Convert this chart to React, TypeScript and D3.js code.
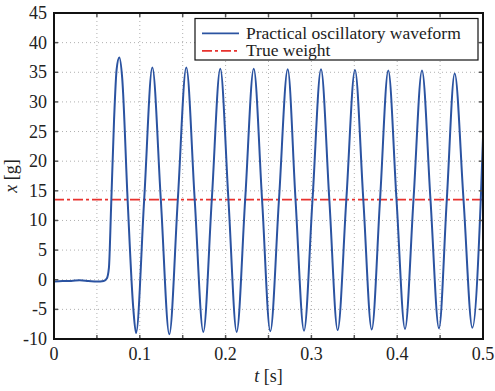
import React from 'react';
import * as d3 from 'd3';

// waveform samples: [t (s), x (g)]
const waveT = [
  0, 0.01, 0.02, 0.03, 0.04, 0.05, 0.058, 0.0615, 0.064, 0.0665, 0.07, 0.073, 0.0761,
  0.0795, 0.0858, 0.0925, 0.0956,
  0.1051, 0.1146, 0.1245, 0.1344, 0.1443, 0.1542, 0.1640, 0.1740, 0.1839, 0.1938,
  0.2033, 0.2129, 0.2228, 0.2328, 0.2425, 0.2521, 0.2622, 0.2724, 0.2815, 0.2914,
  0.3013, 0.3112, 0.3209, 0.3306, 0.3407, 0.3508, 0.3605, 0.3703, 0.3800, 0.3896,
  0.3992, 0.4091, 0.4190, 0.4289, 0.4388, 0.4487, 0.4578, 0.4670, 0.4773, 0.4876,
  0.4974, 0.5,
];
const waveX = [
  -0.3, -0.2, -0.2, -0.1, -0.2, -0.3, -0.2, 0.2, 2, 12, 27, 35.5, 37.5,
  34, 13.5, -5, -9.0,
  13.5, 35.8, 13.5, -9.2, 13.5, 35.8, 13.5, -8.8, 13.5, 35.6,
  13.5, -8.8, 13.5, 35.6, 13.5, -8.7, 13.5, 35.5, 13.5, -8.6,
  13.5, 35.5, 13.5, -8.5, 13.5, 35.4, 13.5, -8.4, 13.5, 35.3,
  13.5, -8.3, 13.5, 35.3, 13.5, -8.2, 13.5, 34.8, 13.5, -8.1,
  13.5, 24,
];
const trueWeight = 13.5;

const xTicks = [0, 0.05, 0.1, 0.15, 0.2, 0.25, 0.3, 0.35, 0.4, 0.45, 0.5];
const xLabels = [0, 0.1, 0.2, 0.3, 0.4, 0.5];
const yTicks = [-10, -5, 0, 5, 10, 15, 20, 25, 30, 35, 40, 45];
const legendItems = ['Practical oscillatory waveform', 'True weight'];

const W = 495;
const H = 391;
const margin = { top: 13, right: 12, bottom: 52, left: 54 };
const BLUE = '#2b53a1';
const RED = '#e8322e';
const txt = { fontFamily: 'Liberation Serif' };

export default function App() {
  const iw = W - margin.left - margin.right;
  const ih = H - margin.top - margin.bottom;
  const x = d3.scaleLinear().domain([0, 0.5]).range([0, iw]);
  const y = d3.scaleLinear().domain([-10, 45]).range([ih, 0]);

  const pts = waveT.map((t, i) => [t, waveX[i]] as [number, number]);
  const line = d3
    .line<[number, number]>()
    .x((d) => x(d[0]))
    .y((d) => y(d[1]))
    .curve(d3.curveMonotoneX);

  return (
    <svg
      width={W}
      height={H}
      style={{ position: 'absolute', left: 0, top: 0, background: '#fff' }}
    >
      <g transform={`translate(${margin.left},${margin.top})`}>
        {/* grid */}
        {xTicks.slice(1, -1).map((t) => (
          <line key={'gx' + t} x1={x(t)} x2={x(t)} y1={0} y2={ih}
            stroke="#b0b0b0" strokeWidth={1} strokeDasharray="1,3" />
        ))}
        {yTicks.slice(1, -1).map((v) => (
          <line key={'gy' + v} x1={0} x2={iw} y1={y(v)} y2={y(v)}
            stroke="#b0b0b0" strokeWidth={1} strokeDasharray="1,3" />
        ))}

        <clipPath id="plotclip">
          <rect x={0} y={0} width={iw} height={ih} />
        </clipPath>
        <g clipPath="url(#plotclip)">
          <line x1={0} x2={iw} y1={y(trueWeight)} y2={y(trueWeight)}
            stroke={RED} strokeWidth={1.7} strokeDasharray="10,3,3,3" />
          <path d={line(pts) || ''} fill="none" stroke={BLUE} strokeWidth={2} />
        </g>

        {/* ticks (inward, on all four sides) */}
        {xTicks.map((t) => (
          <g key={'tx' + t}>
            <line x1={x(t)} x2={x(t)} y1={ih} y2={ih - 4} stroke="#555" strokeWidth={1.5} />
            <line x1={x(t)} x2={x(t)} y1={0} y2={4} stroke="#555" strokeWidth={1.5} />
          </g>
        ))}
        {yTicks.map((v) => (
          <g key={'ty' + v}>
            <line x1={0} x2={4} y1={y(v)} y2={y(v)} stroke="#555" strokeWidth={1.5} />
            <line x1={iw} x2={iw - 4} y1={y(v)} y2={y(v)} stroke="#555" strokeWidth={1.5} />
          </g>
        ))}

        <rect x={0} y={0} width={iw} height={ih} fill="none" stroke="#111" strokeWidth={2} />

        {/* tick labels */}
        {xLabels.map((t) => (
          <text key={'lx' + t} style={txt} x={x(t)} y={ih + 21} textAnchor="middle" fontSize={18} fill="#222">
            {t}
          </text>
        ))}
        {yTicks.map((v) => (
          <text key={'ly' + v} style={txt} x={-7} y={y(v) + 6} textAnchor="end" fontSize={18} fill="#222">
            {v}
          </text>
        ))}

        {/* axis titles */}
        <text style={txt} x={iw / 2} y={ih + 43} textAnchor="middle" fontSize={18} fill="#222">
          <tspan fontStyle="italic">t</tspan> [s]
        </text>
        <text style={txt} transform={`translate(${-37},${ih / 2}) rotate(-90)`} textAnchor="middle"
          fontSize={18} fill="#222">
          <tspan fontStyle="italic">x</tspan> [g]
        </text>

        {/* legend */}
        <g transform={`translate(${195 - margin.left},${18.5 - margin.top})`}>
          <rect x={0} y={0} width={283} height={41.5} fill="#fff" stroke="#111" strokeWidth={1.2} />
          {legendItems.map((name, i) => (
            <g key={name} transform={`translate(0,${14.8 + i * 17.5})`}>
              <line x1={7} x2={44} y1={0} y2={0}
                stroke={i === 0 ? BLUE : RED} strokeWidth={1.8}
                strokeDasharray={i === 0 ? undefined : '10,3,3,3'} />
              <text style={txt} x={51} y={5.5} fontSize={17.5} fill="#222">{name}</text>
            </g>
          ))}
        </g>
      </g>
    </svg>
  );
}
